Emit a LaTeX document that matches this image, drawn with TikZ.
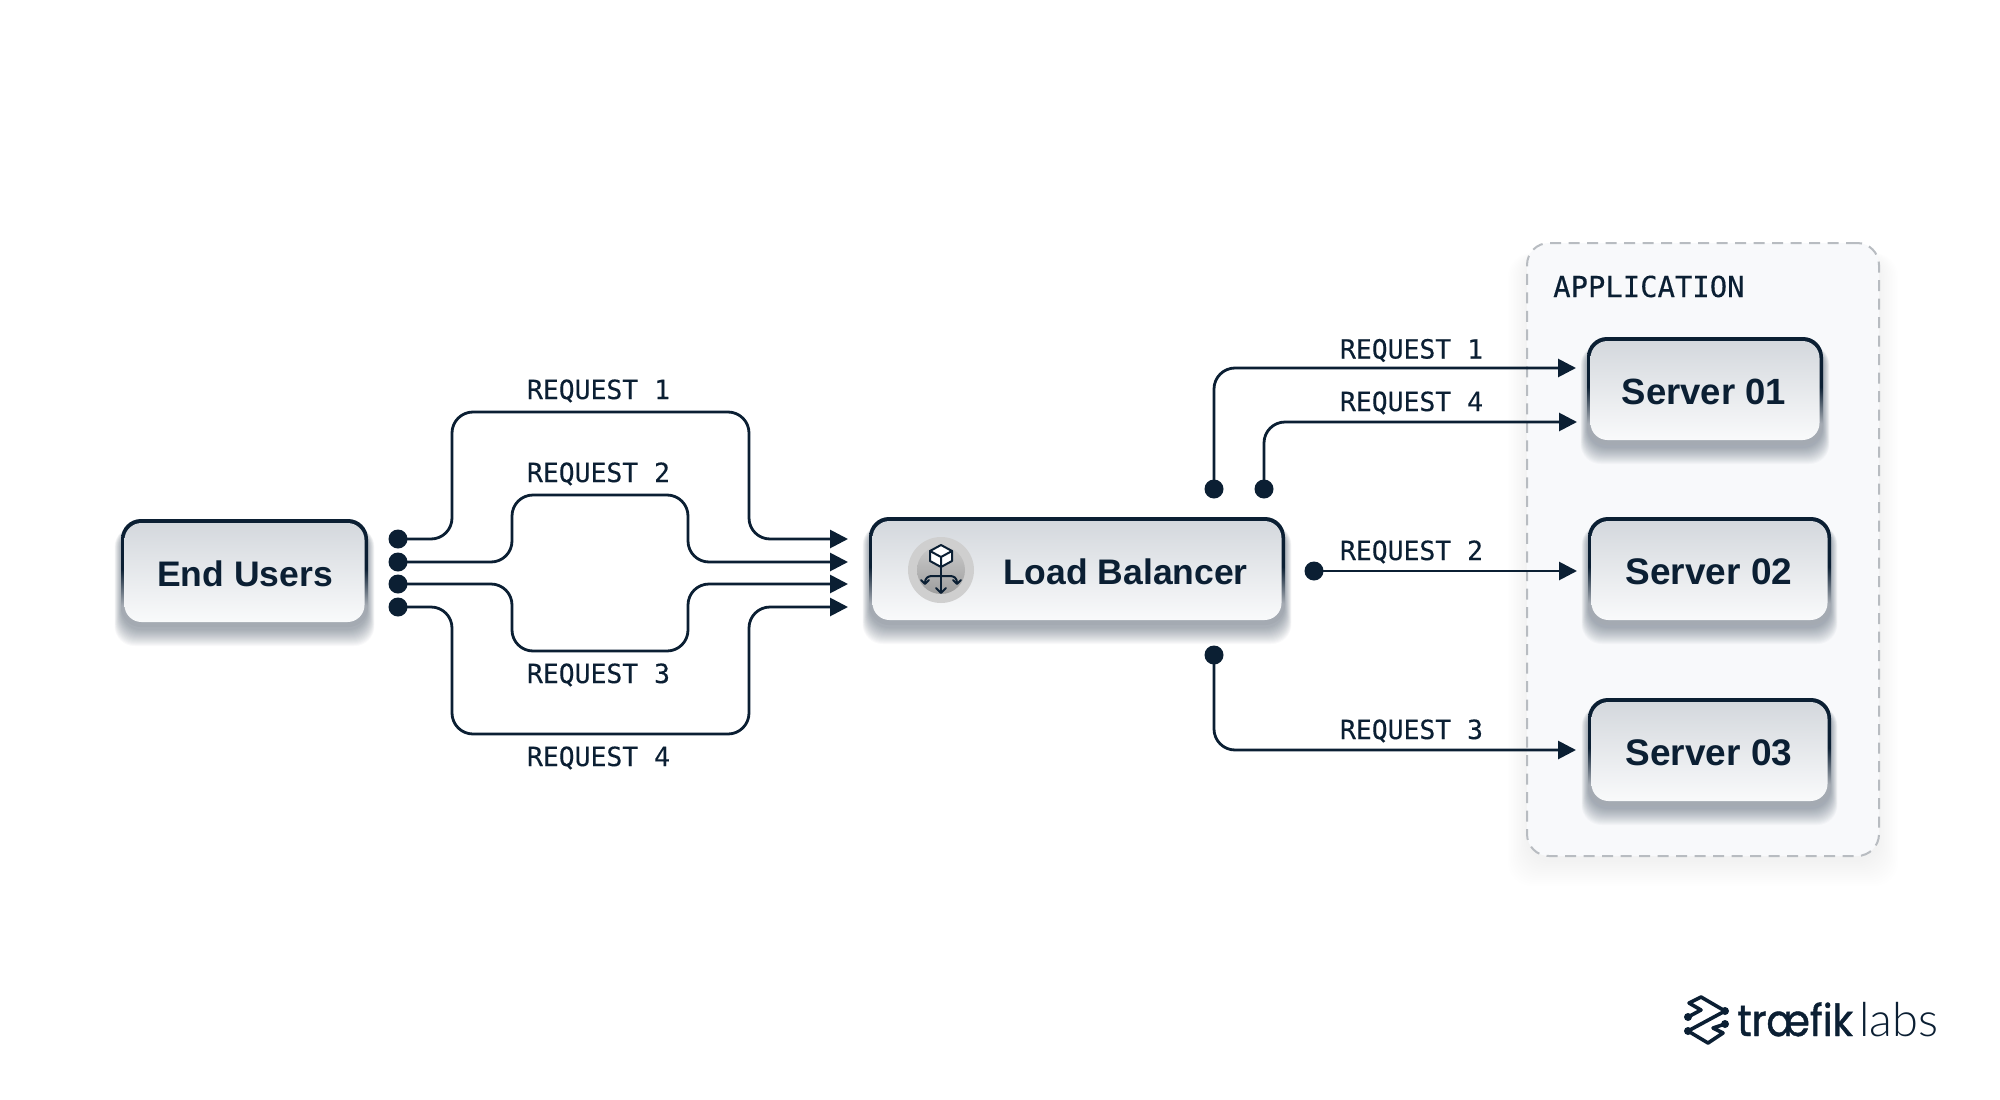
\documentclass[tikz,border=0pt]{standalone}
\usepackage{fontspec}
\setmainfont{Liberation Sans}
\newfontfamily\monof[FakeBold=0.25]{DejaVu Sans Mono}
\newfontfamily\logoa[FakeStretch=0.9,FakeBold=1.0]{Poppins}
\newfontfamily\logob{Lato Light}
\usetikzlibrary{arrows.meta}
\definecolor{ink}{HTML}{0B1F33}
\definecolor{lip}{HTML}{A4AAB2}
\definecolor{gtop}{HTML}{D4D8DD}
\definecolor{gbot}{HTML}{F9FAFB}
\definecolor{shad}{HTML}{2B3D52}
\definecolor{groupfill}{HTML}{F8F9FB}
\definecolor{groupline}{HTML}{B8BCC1}
\pgfdeclareverticalshading{boxrim}{100bp}{color(0bp)=(lip); color(25bp)=(lip); color(35bp)=(lip); color(52bp)=(ink); color(75bp)=(ink); color(100bp)=(ink)}
\tikzset{
  x=1pt,y=-1pt,
  conn/.style={draw=ink,line width=2.8pt,rounded corners=21pt,-{Triangle[length=18pt,width=18pt]}},
  dotn/.style={circle,fill=ink,minimum size=19pt,inner sep=0pt},
  req/.style={anchor=base,text=ink,font=\monof\fontsize{26.4}{30}\selectfont,inner sep=0pt},
  boxlabel/.style={anchor=base,text=ink,font=\bfseries\fontsize{35.5}{40}\selectfont,inner sep=0pt},
  srvlabel/.style={anchor=base,text=ink,font=\bfseries\fontsize{37}{40}\selectfont,inner sep=0pt},
  rim/.style={rectangle,rounded corners=20pt,inner sep=0pt,shading=boxrim},
  face/.style={rectangle,rounded corners=17pt,inner sep=0pt,top color=gtop,bottom color=gbot},
  iconline/.style={draw=ink,line width=2pt,line cap=round,line join=round},
}
\newcommand{\boxat}[5]{%
  \foreach \s in {0,...,16}{%
    \fill[shad,fill opacity=.028,rounded corners=20pt] ({#2-.4*\s},{#3+8}) rectangle ({#4+.4*\s},{#5+3+\s});
  }%
  \node[rim,minimum width={(#4-#2)*1pt},minimum height={(#5-#3)*1pt}] (#1) at ({(#2+#4)/2},{(#3+#5)/2}) {};
  \node[face,minimum width={(#4-#2-7)*1pt},minimum height={(#5-#3-9)*1pt}] (#1f) at ({(#2+#4)/2},{(#3+#5)/2-.5}) {};
}
\begin{document}
\begin{tikzpicture}
\useasboundingbox (0,0) rectangle (2000,1100);
\fill[white] (0,0) rectangle (2000,1100);

% application group
\foreach \s in {0,2,...,24}{%
  \fill[shad,fill opacity=.0035,rounded corners=24pt] ({1527-.8*\s},{243+10}) rectangle ({1879+.8*\s},{856+6+\s});
}
\node[rectangle,rounded corners=22pt,inner sep=0pt,fill=groupfill,draw=groupline,line width=2pt,
      dash pattern=on 11pt off 7.5pt,minimum width=352pt,minimum height=613pt] (group) at (1703,549.5) {};
\node[anchor=base west,text=ink,font=\monof\fontsize{28.9}{32}\selectfont,inner sep=0pt] (applabel) at (1553,297) {APPLICATION};

% boxes
\boxat{users}{121}{519}{368}{627}
\boxat{lb}{869}{517}{1285}{625}
\boxat{srvA}{1587}{337}{1823}{445}
\boxat{srvB}{1588}{517}{1831}{625}
\boxat{srvC}{1588}{698}{1831}{806}

\node[boxlabel] (usersL) at (245,586) {End Users};
\node[boxlabel,anchor=base west] (lbL) at (1003,584) {Load Balancer};
\node[srvlabel,font=\bfseries\fontsize{36.5}{40}\selectfont] (srvAL) at (1704,404) {Server 01};
\node[srvlabel] (srvBL) at (1709,584) {Server 02};
\node[srvlabel] (srvCL) at (1709,765) {Server 03};

% load balancer icon
\node[circle,fill=black!19,minimum size=66pt,inner sep=0pt] (iconA) at (941,570) {};
\node[circle,top color=black!21,bottom color=black!38,minimum size=48pt,inner sep=0pt] (iconB) at (941,570) {};
\draw[iconline] (941,567) -- (941,592);
\draw[iconline] (936,588) -- (941,593) -- (946,588);
\draw[iconline] (925,583) .. controls (925,578) and (928,576) .. (932,576) -- (950,576) .. controls (954,576) and (957,578) .. (957,583);
\draw[iconline] (921,580) -- (925,584) -- (929,580);
\draw[iconline] (953,580) -- (957,584) -- (961,580);
\draw[iconline,fill=white] (941,545) -- (952,551) -- (952,561) -- (941,567) -- (930,561) -- (930,551) -- cycle;
\draw[iconline] (930,551) -- (941,557) -- (952,551) (941,557) -- (941,567);

% left dots and arrow ends
\node[dotn] (d1) at (398,539) {};
\node[dotn] (d2) at (398,562) {};
\node[dotn] (d3) at (398,584) {};
\node[dotn] (d4) at (398,607) {};
\coordinate (e1) at (848,539);
\coordinate (e2) at (848,562);
\coordinate (e3) at (848,584);
\coordinate (e4) at (848,607);
\draw[conn] (d1.center) -- (452,539) -- (452,412) -- (749,412) -- (749,539) -- (e1);
\draw[conn] (d2.center) -- (512,562) -- (512,495) -- (688,495) -- (688,562) -- (e2);
\draw[conn] (d3.center) -- (512,584) -- (512,651) -- (688,651) -- (688,584) -- (e3);
\draw[conn] (d4.center) -- (452,607) -- (452,734) -- (749,734) -- (749,607) -- (e4);
\node[req] (rl1) at (598.5,399) {REQUEST 1};
\node[req] (rl2) at (598.5,482) {REQUEST 2};
\node[req] (rl3) at (598.5,683) {REQUEST 3};
\node[req] (rl4) at (598.5,766) {REQUEST 4};

% right side
\node[dotn] (o1) at (1214,489) {};
\node[dotn] (o4) at (1264,489) {};
\node[dotn] (o2) at (1314,571) {};
\node[dotn] (o3) at (1214,655) {};
\coordinate (t1) at (1576,368);
\coordinate (t4) at (1577,422);
\coordinate (t2) at (1577,571);
\coordinate (t3) at (1576,750);
\draw[conn] (o1.center) -- (1214,368) -- (t1);
\draw[conn] (o4.center) -- (1264,422) -- (t4);
\draw[conn] (o2.center) -- (t2);
\draw[conn] (o3.center) -- (1214,750) -- (t3);
\node[req] (rr1) at (1411.5,358.5) {REQUEST 1};
\node[req] (rr4) at (1411.5,411) {REQUEST 4};
\node[req] (rr2) at (1411.5,560) {REQUEST 2};
\node[req] (rr3) at (1411.5,739) {REQUEST 3};

% logo
\draw[ink,line width=3.6pt,line join=round,line cap=round] (1688,1017) -- (1701,1010) -- (1689,1003) -- (1701,997) -- (1725,1011) -- (1688,1031) -- (1708,1043) -- (1723,1033) -- (1713,1028) -- (1725,1024);
\foreach \p in {(1688,1017),(1725,1011),(1688,1031),(1725,1024)}{\fill[ink] \p circle (4);}
\node[anchor=base west,text=ink,inner sep=0pt,font=\logoa\fontsize{44}{50}\selectfont] (logoA) at (1737,1036) {træfik};
\node[anchor=base west,text=ink,inner sep=0pt,font=\logob\fontsize{47}{50}\selectfont] (logoB) at (1859,1036) {labs};
\end{tikzpicture}
\end{document}
